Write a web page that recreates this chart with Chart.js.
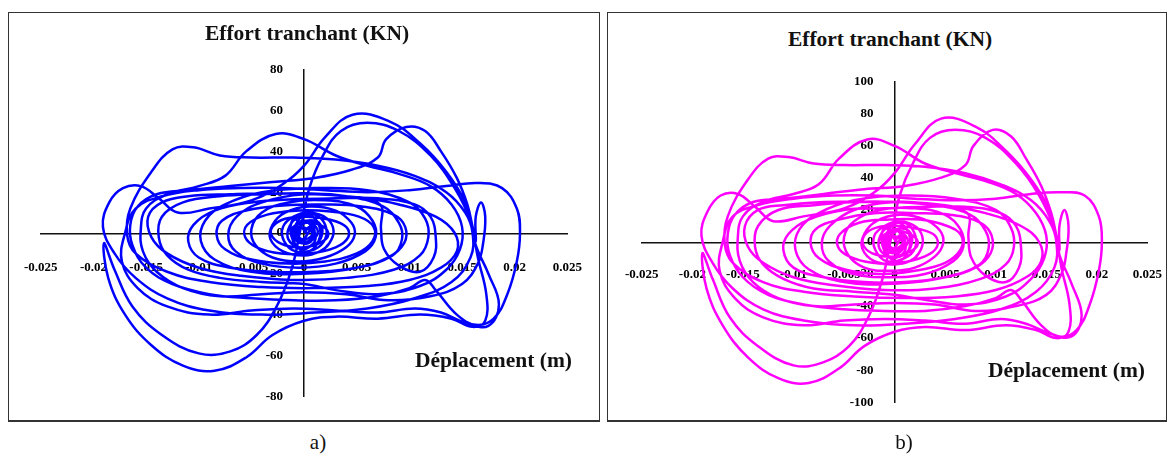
<!DOCTYPE html>
<html>
<head>
<meta charset="utf-8">
<script src="https://cdn.jsdelivr.net/npm/chart.js@4.4.1/dist/chart.umd.min.js"></script>
<style>
  body { margin: 0; width: 1173px; height: 454px; background: #fff; position: relative; overflow: hidden; font-family: "Liberation Serif", "Times New Roman", serif; }
  .box { position: absolute; box-sizing: border-box; border: 1.5px solid #333; border-bottom-width: 2.5px; }
  canvas { position: absolute; }
  .lbl { position: absolute; transform: translate(-50%, -50%); white-space: nowrap; color: #111; }
  .title { font-weight: bold; font-size: 21.5px; }
  .axis { font-weight: bold; font-size: 21.5px; transform: translate(0, -50%); }
  .tag { font-size: 21px; }
</style>
</head>
<body>
<div class="box" style="left:8px;top:12px;width:592px;height:410px;"></div>
<div class="box" style="left:607px;top:12px;width:560px;height:410px;"></div>
<canvas id="chartA" width="600" height="420" style="left:0px;top:0px;"></canvas>
<canvas id="chartB" width="600" height="420" style="left:600px;top:0px;"></canvas>
<div class="lbl title" style="left:307px;top:33px;">Effort tranchant (KN)</div>
<div class="lbl title" style="left:890px;top:39px;">Effort tranchant (KN)</div>
<div class="lbl axis" style="left:415px;top:360px;">Déplacement (m)</div>
<div class="lbl axis" style="left:988px;top:370px;">Déplacement (m)</div>
<div class="lbl tag" style="left:318px;top:442px;">a)</div>
<div class="lbl tag" style="left:904px;top:442px;">b)</div>
<script>
// tick values and labels
const xTickValues = [-0.025, -0.02, -0.015, -0.01, -0.005, 0, 0.005, 0.01, 0.015, 0.02, 0.025];
const xTickLabels = ["-0.025", "-0.02", "-0.015", "-0.01", "-0.005", "0", "0.005", "0.01", "0.015", "0.02", "0.025"];
const yTicksA = [-80, -60, -40, -20, 0, 20, 40, 60, 80];
const yTicksB = [-100, -80, -60, -40, -20, 0, 20, 40, 60, 80, 100];

// displacement (m), same history for both panels
const displacement = [
  0, 0.0005, 0.0009, 0.0004, -0.0004, -0.0007, -0.0002, 0.0006, 0.0011, 0.0007,
  -0.0003, -0.0011, -0.0008, 0.0001, 0.0012, 0.0015, 0.0005, -0.0006, -0.0013, -0.0009,
  0.0003, 0.0008, 0.0013, 0.0009, -0.0002, -0.001, -0.0009, 0.0002, 0.0014, 0.0017,
  0.0009, -0.0005, -0.0015, -0.0014, -0.0005, 0.001, 0.002, 0.002, 0.001, -0.0008,
  -0.0019, -0.002, -0.001, 0.0005, 0.0022, 0.0028, 0.0024,
  0.0015, 0, -0.002, -0.0032, -0.003, -0.0018, 0.0005, 0.003, 0.0045, 0.0048,
  0.004, 0.002, -0.0005, -0.003, -0.0046, -0.005, -0.004, -0.0015, 0.002, 0.005,
  0.0065, 0.0068, 0.0058, 0.003, -0.0005, -0.004, -0.0065, -0.0072, -0.0064, -0.004,
  0, 0.004, 0.0075, 0.009, 0.0093, 0.0084, 0.005, 0, -0.005, -0.0085,
  -0.0098, -0.0094, -0.0075, -0.004, 0.001, 0.006, 0.01, 0.0115, 0.0118,
  0.011, 0.0085, 0.004, -0.001, -0.006, -0.01, -0.013, -0.0145, -0.0148, -0.0135,
  -0.011, -0.007, -0.003, 0.001, 0.005, 0.009, 0.0125, 0.0143, 0.0145, 0.013,
  0.01, 0.006, 0.001, -0.004, -0.009, -0.013, -0.016, -0.0168,
  -0.0165, -0.0145, -0.0125, -0.0105, -0.008, -0.005, -0.001, 0.003, 0.007, 0.0105,
  0.0135, 0.0153, 0.016, 0.0158, 0.014, 0.0105, 0.006, 0.001, -0.004, -0.009,
  -0.013, -0.016, -0.018,
  -0.0191, -0.0185, -0.0172, -0.0155, -0.0138, -0.012, -0.009, -0.005, -0.002, 0,
  0.002, 0.0046, 0.008, 0.011, 0.0135, 0.0153, 0.016, 0.0165, 0.0173, 0.0172,
  0.016, 0.014, 0.011, 0.007, 0.003, 0, -0.003, -0.0055, -0.0085, -0.0115,
  -0.0145, -0.017, -0.0186, -0.019,
  -0.018, -0.0163, -0.0135, -0.01, -0.007, -0.0045, -0.0026, -0.0012, -0.0003, 0.0005,
  0.0018, 0.0035, 0.006, 0.009, 0.012, 0.0143, 0.0158, 0.0163, 0.0175, 0.0185,
  0.0175, 0.0153, 0.013, 0.0105, 0.007, 0.003, -0.001, -0.005, -0.009, -0.013,
  -0.0158, -0.0173, -0.017,
  -0.016, -0.0135, -0.01, -0.006, -0.002, 0.002, 0.006, 0.01, 0.0135, 0.0165,
  0.0188, 0.0202, 0.0205, 0.0202, 0.0193, 0.018, 0.0163, 0.0145, 0.0125, 0.0115,
  0.01, 0.007, 0.003, -0.001, -0.005, -0.009, -0.0125, -0.015, -0.0163,
  -0.0165, -0.0158, -0.014, -0.011, -0.007, -0.003, 0.001, 0.0045, 0.007, 0.0078,
  0.0097, 0.0115, 0.013, 0.0145, 0.0155, 0.016, 0.0163, 0.0163, 0.0168, 0.0172,
  0.017, 0.0165, 0.015, 0.012, 0.008, 0.004, 0, -0.004, -0.008, -0.0115,
  -0.014, -0.0153,
  -0.0155, -0.015, -0.013, -0.01, -0.0075, -0.0055, -0.0027, 0, 0.003, 0.006,
  0.009, 0.012, 0.014, 0.015, 0.0148, 0.0135, 0.011, 0.007, 0.003, 0,
  -0.004, -0.008, -0.011, -0.013, -0.0138,
  -0.0135, -0.0115, -0.008, -0.004, 0, 0.004, 0.0072, 0.0073, 0.0076, 0.009,
  0.011, 0.0123, 0.0125, 0.012, 0.0105, 0.007, 0.003, -0.001, -0.005, -0.0085,
  -0.0105, -0.011, -0.01, -0.007, -0.003, 0.001, 0.005, 0.008, 0.0095, 0.0096,
  0.0085, 0.0055, 0.002, -0.002, -0.0055, -0.0078, -0.0083, -0.0075, -0.005, -0.0015,
  0.002, 0.005, 0.0065, 0.0066, 0.0052, 0.0025, -0.0005, -0.0035, -0.0054, -0.0056,
  -0.0045, -0.0022, 0.0005, 0.003, 0.0042, 0.004, 0.0025, 0.0003, -0.0018, -0.003,
  -0.003, -0.0018, 0, 0.0018, 0.0023, 0.0015, 0, -0.0012, -0.001, 0.0002, 0.0008,
  -0.0003, -0.0009, -0.0005, 0.0004, 0.001, 0.0006, -0.0002, -0.0006, -0.0001, 0.0004
];

// shear force (kN), panel a
const forceA = [
  0, 3, 0, -4, -3, 2, 6, 4, -2, -6,
  -8, -3, 4, 9, 6, -2, -9, -7, 1, 7,
  0, 4, 1, -3, -5, -2, 3, 6, 5, -1,
  -6, -7, -3, 3, 8, 9, 4, -3, -8, -9,
  -4, 3, 8, 10, 7, 1, -5,
  -9, -11, -9, -3, 4, 10, 13, 11, 5, -1,
  -7, -12, -14, -12, -6, 2, 10, 15, 16, 13,
  6, -2, -9, -15, -17, -15, -9, -1, 8, 15,
  19, 18, 13, 5, -3, -11, -17, -20, -19, -13,
  -4, 6, 14, 20, 22, 21, 15, 7, -2,
  -11, -18, -22, -23, -21, -17, -10, -2, 8, 15,
  18, 19, 19.5, 19, 17.5, 14, 8, 0, -9, -17,
  -23, -26, -27, -26.5, -24, -19, -10, -1,
  12, 30, 41, 42, 38, 37, 37, 36, 33, 28,
  20, 10, 0, -12, -24, -32, -37, -39, -40, -38,
  -32, -22, -10,
  3, 15, 22, 23, 17, 10, 12, 16, 24, 33,
  47, 58, 55, 44, 30, 15, 2, -12, -30, -43,
  -46, -42, -40, -42, -41, -43, -50, -61, -67.5, -65,
  -55, -40, -22, -5,
  -18, -36, -50, -59, -58, -50, -36, -18, 3, 22,
  38, 50, 54, 50, 38, 22, 6, -6, -20, -35,
  -45.5, -44, -39, -37, -39, -38, -37, -38, -40, -36,
  -27, -14, 0,
  12, 18, 21, 22, 22, 21, 20, 21, 23, 24.5,
  22, 12, 0, -14, -30, -42, -45, -40, -28, -23,
  -27, -31, -33, -33, -32, -30, -25, -17, -6,
  4, 13, 19, 21, 23, 25, 27, 31, 37, 46,
  52, 50, 40, 27, 14, 3, -4, 8, 15, 8,
  -5, -15, -25, -31, -33, -30, -29, -30, -31, -27,
  -19, -9,
  2, 12, 19, 23, 28, 40, 48.5, 46, 38, 33,
  29, 23, 14, 3, -8, -18, -26, -30, -28, -25,
  -24, -22, -18, -11, -2,
  8, 15, 18, 19, 19.5, 18, 14, 2, -8, -16,
  -19, -12, -2, 8, 14, 17, 17, 16.5, 15, 11,
  4, -4, -12, -17, -19, -19, -17, -12, -5, 3,
  9, 13, 14, 13.5, 11, 6, -1, -8, -13, -15,
  -14, -10, -4, 3, 8, 10.5, 11, 9, 4, -2,
  -7, -10, -10, -7, -2, 3, 6.5, 8, 7, 3,
  -2, -6, -7, -4, 0, 4, 5, 2, -2, -3, 0,
  3, 1, -4, -5, 0, 5, 4, -1, -3, 0
];

// shear force (kN), panel b
const forceB = [
  0, 4, 0, -5, -4, 3, 8, 5, -3, -8,
  -10, -4, 5, 12, 8, -3, -12, -9, 1, 9,
  0, 5, 1, -4, -7, -3, 4, 8, 7, -1,
  -8, -9, -4, 4, 10, 12, 5, -4, -10, -12,
  -5, 4, 10, 13, 9, 1, -7,
  -12, -14, -12, -4, 5, 13, 17, 14, 7, -1,
  -9, -16, -18, -16, -8, 3, 13, 20, 21, 17,
  8, -3, -12, -20, -22, -20, -12, -1, 10, 20,
  25, 23, 17, 7, -4, -14, -22, -26, -25, -17,
  -5, 8, 18, 26, 29, 27, 20, 9, -3,
  -14, -23, -29, -30, -27, -22, -13, -3, 10, 20,
  23, 25, 25, 25, 23, 18, 10, 0, -12, -22,
  -30, -34, -35, -34, -31, -25, -13, -1,
  16, 39, 52, 53, 49, 48, 48, 47, 43, 36,
  26, 13, 0, -16, -31, -42, -48, -51, -52, -49,
  -42, -29, -13,
  4, 19, 29, 30, 22, 13, 16, 21, 31, 43,
  61, 77, 72, 57, 39, 20, 3, -16, -39, -56,
  -60, -55, -52, -55, -53, -56, -65, -79, -88, -85,
  -72, -52, -29, -7,
  -23, -47, -65, -77, -75, -65, -47, -23, 4, 29,
  49, 65, 70, 65, 49, 29, 8, -8, -26, -46,
  -59, -57, -51, -48, -51, -49, -48, -49, -52, -47,
  -35, -18, 0,
  16, 23, 27, 29, 29, 27, 26, 27, 30, 31,
  29, 16, 0, -18, -39, -55, -59, -52, -36, -30,
  -35, -40, -43, -43, -42, -39, -33, -22, -8,
  5, 17, 25, 27, 30, 33, 35, 40, 48, 60,
  70, 66, 52, 35, 18, 4, -5, 10, 20, 10,
  -6, -20, -33, -40, -43, -39, -38, -39, -40, -35,
  -25, -12,
  3, 16, 25, 30, 36, 52, 64, 60, 49, 43,
  38, 30, 18, 4, -10, -23, -34, -39, -36, -33,
  -31, -29, -23, -14, -3,
  10, 20, 23, 25, 25, 23, 18, 3, -10, -21,
  -25, -16, -3, 10, 18, 22, 22, 21, 20, 14,
  5, -5, -16, -22, -25, -25, -22, -16, -7, 4,
  12, 17, 18, 18, 14, 8, -1, -10, -17, -20,
  -18, -13, -5, 4, 10, 14, 14, 12, 5, -3,
  -9, -13, -13, -9, -3, 4, 8, 10, 9, 4,
  -3, -8, -9, -5, 0, 5, 7, 3, -3, -4, 0,
  4, 1, -5, -7, 0, 7, 5, -1, -4, 0
];

const tickFont = { family: "Liberation Serif", size: 13, weight: "bold" };

function chartConfig(force, color, yTicks, xPad) {
  const yMax = yTicks[yTicks.length - 1];
  return {
    type: "scatter",
    data: {
      datasets: [{
        data: displacement.map((x, i) => ({ x: x, y: force[i] })),
        showLine: true,
        borderColor: color,
        borderWidth: 2.5,
        pointRadius: 0,
        tension: 0.4,
        fill: false,
      }],
    },
    options: {
      responsive: false,
      animation: false,
      layout: { padding: 0 },
      plugins: { legend: { display: false }, tooltip: { enabled: false } },
      scales: {
        x: {
          type: "linear",
          position: "center",
          min: -0.025,
          max: 0.025,
          afterBuildTicks: (s) => { s.ticks = xTickValues.map((v) => ({ value: v })); },
          grid: { display: false, drawTicks: false },
          border: { color: "#111", width: 1.5 },
          ticks: {
            autoSkip: false,
            maxRotation: 0,
            padding: xPad,
            color: "#000",
            font: tickFont,
            callback: (v, i) => xTickLabels[i],
          },
        },
        y: {
          type: "linear",
          position: "center",
          min: -yMax,
          max: yMax,
          afterBuildTicks: (s) => { s.ticks = yTicks.map((v) => ({ value: v })); },
          grid: { display: false, drawTicks: false },
          border: { color: "#111", width: 1.5 },
          ticks: {
            autoSkip: false,
            padding: 21,
            color: "#000",
            font: tickFont,
            callback: (v) => String(v),
          },
        },
      },
    },
  };
}

// the centred axes reserve their own margins, so size and place the canvas
// so that the axis ends fall where they are in the figure
function makeChart(id, force, color, yTicks, area, xPad) {
  const canvas = document.getElementById(id);
  const yMax = yTicks[yTicks.length - 1];
  let chart = new Chart(canvas, chartConfig(force, color, yTicks, xPad));
  const xs = chart.scales.x, ys = chart.scales.y;
  const l = xs.getPixelForValue(-0.025), r = xs.getPixelForValue(0.025);
  const t = ys.getPixelForValue(yMax), b = ys.getPixelForValue(-yMax);
  const w = canvas.width + (area.right - area.left) - (r - l);
  const h = canvas.height + (area.bottom - area.top) - (b - t);
  chart.destroy();
  canvas.width = Math.round(w);
  canvas.height = Math.round(h);
  canvas.style.width = Math.round(w) + "px";
  canvas.style.height = Math.round(h) + "px";
  canvas.style.left = (area.left - l) + "px";
  canvas.style.top = (area.top - t) + "px";
  chart = new Chart(canvas, chartConfig(force, color, yTicks, xPad));
  return chart;
}

makeChart("chartA", forceA, "#0000ff", yTicksA, { left: 41, right: 568, top: 70, bottom: 396 }, 27);
makeChart("chartB", forceB, "#ff00ff", yTicksB, { left: 641.5, right: 1147.5, top: 82, bottom: 402 }, 25);
</script>
</body>
</html>
